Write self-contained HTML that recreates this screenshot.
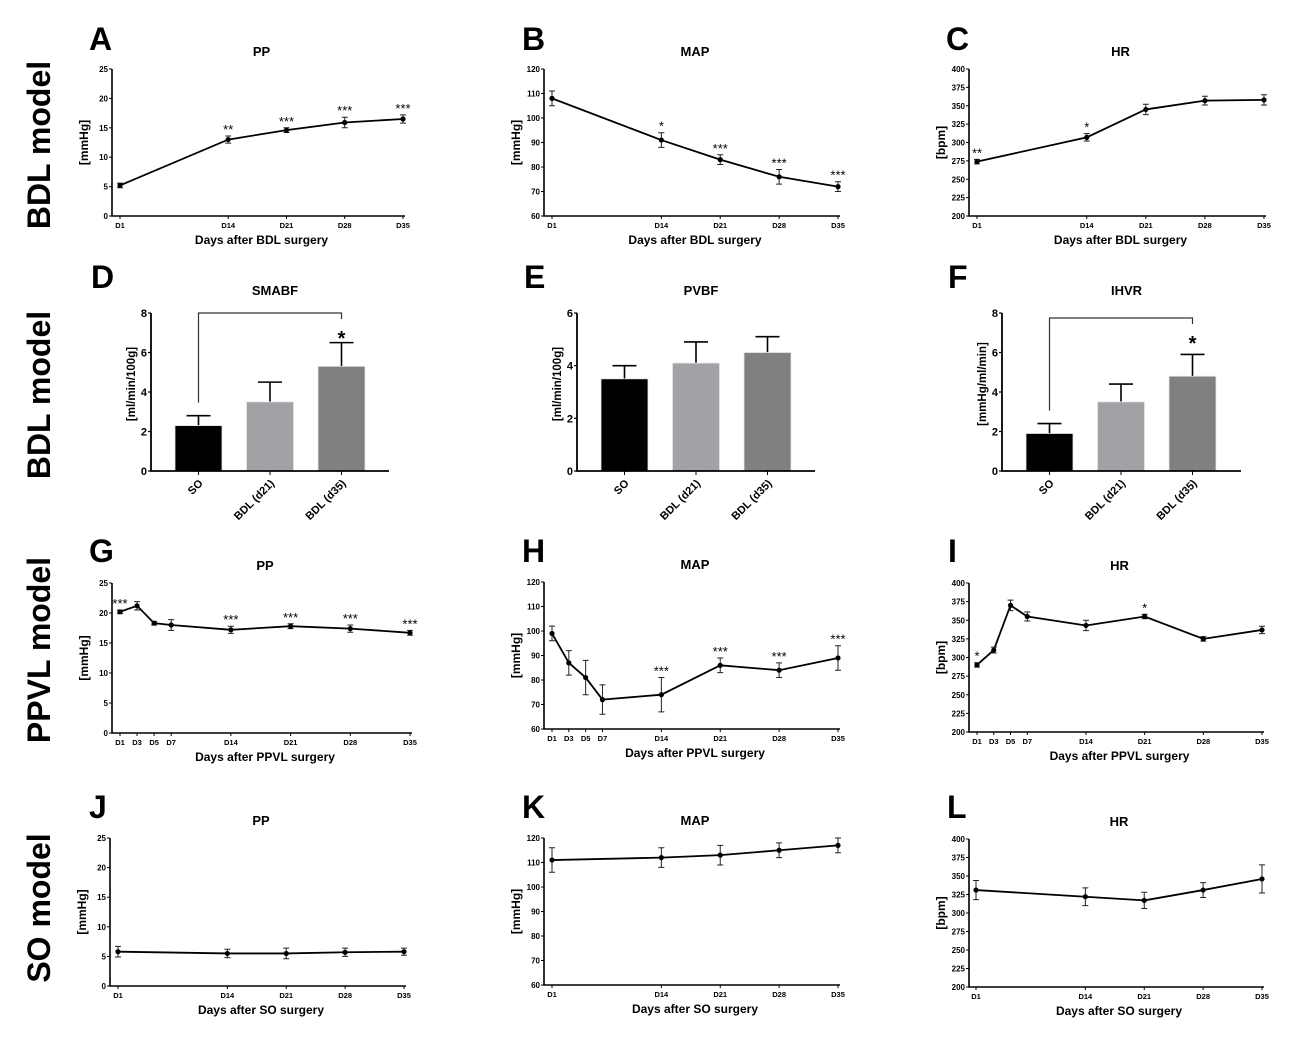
<!DOCTYPE html>
<html><head><meta charset="utf-8"><style>
html,body{margin:0;padding:0;background:#fff;}
svg{display:block;font-family:"Liberation Sans",Arial,sans-serif;font-weight:bold;}
</style></head><body>
<svg id="fig" width="1300" height="1040" viewBox="0 0 1300 1040">
<text x="50" y="145" font-size="32" text-anchor="middle" transform="rotate(-90 50 145)">BDL model</text>
<text x="50" y="395" font-size="32" text-anchor="middle" transform="rotate(-90 50 395)">BDL model</text>
<text x="50" y="650" font-size="32" text-anchor="middle" transform="rotate(-90 50 650)">PPVL model</text>
<text x="50" y="908" font-size="32" text-anchor="middle" transform="rotate(-90 50 908)">SO model</text>
</svg>
<script>
// ---- data ----
const daysBDL = [1,14,21,28,35];
const daysPPVL = [1,3,5,7,14,21,28,35];
const dayLabelsBDL = ["D1","D14","D21","D28","D35"];
const dayLabelsPPVL = ["D1","D3","D5","D7","D14","D21","D28","D35"];
const ppTicks = [0,5,10,15,20,25];
const mapTicks = [60,70,80,90,100,110,120];
const hrTicks = [200,225,250,275,300,325,350,375,400];
const valsA = [5.2,13.0,14.6,15.9,16.5];
const errsA = [0.4,0.6,0.4,0.9,0.7];
const starsA = ["","**","***","***","***"];
const valsB = [108,91,83,76,72];
const errsB = [3,3,2,3,2];
const starsB = ["","*","***","***","***"];
const valsC = [274,307,345,357,358];
const errsC = [3,5,7,6,7];
const starsC = ["**","*","","",""];
const valsG = [20.2,21.2,18.3,18.0,17.2,17.8,17.4,16.7];
const errsG = [0.3,0.7,0.3,0.9,0.6,0.4,0.6,0.4];
const starsG = ["***","","","","***","***","***","***"];
const valsH = [99,87,81,72,74,86,84,89];
const errsH = [3,5,7,6,7,3,3,5];
const starsH = ["","","","","***","***","***","***"];
const valsI = [290,310,370,355,343,355,325,337];
const errsI = [3,4,7,6,7,3,3,5];
const starsI = ["*","","","","","*","",""];
const valsJ = [5.8,5.5,5.5,5.7,5.8];
const errsJ = [0.9,0.7,0.9,0.7,0.6];
const valsK = [111,112,113,115,117];
const errsK = [5,4,4,3,3];
const valsL = [331,322,317,331,346];
const errsL = [13,12,11,10,19];
const barCats = ["SO","BDL (d21)","BDL (d35)"];
const barColors = ["#000000","#a2a2a6","#808080"];
const valsD = [2.3,3.5,5.3];
const errsD = [0.5,1.0,1.2];
const valsE = [3.5,4.1,4.5];
const errsE = [0.5,0.8,0.6];
const valsF = [1.9,3.5,4.8];
const errsF = [0.5,0.9,1.1];
const ticks8 = [0,2,4,6,8];
const ticks6 = [0,2,4,6];

const NS="http://www.w3.org/2000/svg";
const svg=document.getElementById('fig');
function mk(tag,attrs,parent,txt){const e=document.createElementNS(NS,tag);for(const k in attrs)e.setAttribute(k,attrs[k]);if(txt!==undefined)e.textContent=txt;(parent||svg).appendChild(e);return e;}

function lineChart(o){
  const g=mk('g',{});
  
  
  const sx=d=>o.x0+(d-1)/34*(o.x1-o.x0);
  const sy=v=>o.yB-(v-o.ymin)/(o.ymax-o.ymin)*(o.yB-o.yT);
  const L=mk('text',{x:o.lx,y:o.ly,'font-size':32},g,o.letter);
  
  
  const T=mk('text',{x:(o.x0+o.x1)/2,y:o.yT-13,'font-size':13,'text-anchor':'middle'},g,o.title);
  
  
  const ax=mk('path',{d:`M${o.ax},${o.yT}V${o.yB}H${o.x1+2}`,stroke:'#000','stroke-width':1.6,fill:'none'},g);
  
  
  o.ticks.forEach(t=>{
    mk('line',{x1:o.ax-3,x2:o.ax,y1:sy(t),y2:sy(t),stroke:'#000','stroke-width':1},g);
    const tl=mk('text',{x:o.ax-4,y:sy(t)+3,'font-size':8,'text-anchor':'end'},g,String(t));
    
    
  });
  o.days.forEach((d,i)=>{
    mk('line',{x1:sx(d),x2:sx(d),y1:o.yB,y2:o.yB+3,stroke:'#000','stroke-width':1},g);
    const tl=mk('text',{x:sx(d),y:o.yB+12,'font-size':7.5,'text-anchor':'middle'},g,o.dayLabels[i]);
    
    
  });
  const yl=mk('text',{x:o.ax-24,y:(o.yT+o.yB)/2,'font-size':12,'text-anchor':'middle',transform:`rotate(-90 ${o.ax-24} ${(o.yT+o.yB)/2})`},g,o.ylabel);
  
  
  const xl=mk('text',{x:(o.x0+o.x1)/2,y:o.yB+28,'font-size':12,'text-anchor':'middle'},g,o.xlabel);
  
  
  const pts=o.days.map((d,i)=>sx(d)+','+sy(o.vals[i])).join(' ');
  const pl=mk('polyline',{points:pts,fill:'none',stroke:'#000','stroke-width':1.8},g);
  
  
  o.days.forEach((d,i)=>{
    const x=sx(d),v=o.vals[i],e=o.errs[i];
    const top=sy(v+e),bot=sy(v-e);
    const eb=mk('path',{d:`M${x},${top}V${bot}M${x-3},${top}H${x+3}M${x-3},${bot}H${x+3}`,stroke:'#222','stroke-width':1},g);
    
    
    const p=mk('circle',{cx:x,cy:sy(v),r:2.6,fill:'#000'},g);
    
    
    if(o.stars&&o.stars[i]){
      const s=mk('text',{x:x,y:top-2,'font-size':13,'font-weight':'normal','text-anchor':'middle'},g,o.stars[i]);
      
      
    }
  });
}

function barChart(o){
  const g=mk('g',{});
  
  
  const sy=v=>o.yB-(v/o.ymax)*(o.yB-o.yT);
  const L=mk('text',{x:o.lx,y:o.ly,'font-size':32},g,o.letter);
  
  
  const T=mk('text',{x:(o.ax+o.axEnd)/2+5,y:o.yT-18,'font-size':13,'text-anchor':'middle'},g,o.title);
  
  
  const bw=47, step=71.5;
  o.vals.forEach((v,i)=>{
    const x=o.b0+i*step, cx=x+bw/2;
    const top=sy(v+o.errs[i]);
    const eb=mk('path',{d:`M${cx},${sy(v)}V${top}M${cx-12},${top}H${cx+12}`,stroke:'#000','stroke-width':1.6},g);
    
    
    const r=mk('rect',{x:x,y:sy(v),width:bw,height:o.yB-sy(v),fill:barColors[i],stroke:'#e8e8e8','stroke-width':0.8},g);
    
    
    mk('line',{x1:cx,x2:cx,y1:o.yB,y2:o.yB+4,stroke:'#000','stroke-width':1},g);
    const tl=mk('text',{x:cx+5,y:o.yB+13,'font-size':11,'text-anchor':'end',transform:`rotate(-45 ${cx+5} ${o.yB+13})`},g,barCats[i]);
    
    
  });
  const ax=mk('path',{d:`M${o.ax},${o.yT}V${o.yB}H${o.axEnd}`,stroke:'#000','stroke-width':1.8,fill:'none'},g);
  
  
  o.ticks.forEach(t=>{
    mk('line',{x1:o.ax-3,x2:o.ax,y1:sy(t),y2:sy(t),stroke:'#000','stroke-width':1.2},g);
    const tl=mk('text',{x:o.ax-4,y:sy(t)+4,'font-size':11,'text-anchor':'end'},g,String(t));
    
    
  });
  const yl=mk('text',{x:o.ax-16,y:(o.yT+o.yB)/2-8,'font-size':11.5,'text-anchor':'middle',transform:`rotate(-90 ${o.ax-16} ${(o.yT+o.yB)/2-8})`},g,o.ylabel);
  
  
  if(o.bracket){
    const c0=o.b0+bw/2, c2=o.b0+2*step+bw/2;
    const br=mk('path',{d:`M${c0},${sy(o.vals[0]+o.errs[0])-13}V${o.brY}H${c2}V${o.brY+6}`,stroke:'#333','stroke-width':1.2,fill:'none'},g);
    
    
    const s=mk('text',{x:c2,y:o.brY+32,'font-size':20,'text-anchor':'middle'},g,'*');
    
    
  }
}

const C1={ax:112,x0:120,x1:403}, C2={ax:544,x0:552,x1:838}, C3={ax:969,x0:977,x1:1264};
lineChart({id:'a',letter:'A',lx:89,ly:50,...C1,yT:69,yB:216,ymin:0,ymax:25,ticks:ppTicks,days:daysBDL,dayLabels:dayLabelsBDL,vals:valsA,errs:errsA,stars:starsA,title:'PP',ylabel:'[mmHg]',xlabel:'Days after BDL surgery'});
lineChart({id:'b',letter:'B',lx:522,ly:50,...C2,yT:69,yB:216,ymin:60,ymax:120,ticks:mapTicks,days:daysBDL,dayLabels:dayLabelsBDL,vals:valsB,errs:errsB,stars:starsB,title:'MAP',ylabel:'[mmHg]',xlabel:'Days after BDL surgery'});
lineChart({id:'c',letter:'C',lx:946,ly:50,...C3,yT:69,yB:216,ymin:200,ymax:400,ticks:hrTicks,days:daysBDL,dayLabels:dayLabelsBDL,vals:valsC,errs:errsC,stars:starsC,title:'HR',ylabel:'[bpm]',xlabel:'Days after BDL surgery'});
barChart({id:'d',letter:'D',lx:91,ly:288,ax:151,axEnd:389,b0:175,yT:313,yB:471,ymax:8,ticks:ticks8,vals:valsD,errs:errsD,title:'SMABF',ylabel:'[ml/min/100g]',bracket:true,brY:313});
barChart({id:'e',letter:'E',lx:524,ly:288,ax:577,axEnd:815,b0:601,yT:313,yB:471,ymax:6,ticks:ticks6,vals:valsE,errs:errsE,title:'PVBF',ylabel:'[ml/min/100g]',bracket:false});
barChart({id:'f',letter:'F',lx:948,ly:288,ax:1002,axEnd:1241,b0:1026,yT:313,yB:471,ymax:8,ticks:ticks8,vals:valsF,errs:errsF,title:'IHVR',ylabel:'[mmHg/ml/min]',bracket:true,brY:318});
lineChart({id:'g',letter:'G',lx:89,ly:562,ax:112,x0:120,x1:410,yT:583,yB:733,ymin:0,ymax:25,ticks:ppTicks,days:daysPPVL,dayLabels:dayLabelsPPVL,vals:valsG,errs:errsG,stars:starsG,title:'PP',ylabel:'[mmHg]',xlabel:'Days after PPVL surgery'});
lineChart({id:'h',letter:'H',lx:522,ly:562,...C2,yT:582,yB:729,ymin:60,ymax:120,ticks:mapTicks,days:daysPPVL,dayLabels:dayLabelsPPVL,vals:valsH,errs:errsH,stars:starsH,title:'MAP',ylabel:'[mmHg]',xlabel:'Days after PPVL surgery'});
lineChart({id:'i',letter:'I',lx:948,ly:562,ax:969,x0:977,x1:1262,yT:583,yB:732,ymin:200,ymax:400,ticks:hrTicks,days:daysPPVL,dayLabels:dayLabelsPPVL,vals:valsI,errs:errsI,stars:starsI,title:'HR',ylabel:'[bpm]',xlabel:'Days after PPVL surgery'});
lineChart({id:'j',letter:'J',lx:89,ly:818,ax:110,x0:118,x1:404,yT:838,yB:986,ymin:0,ymax:25,ticks:ppTicks,days:daysBDL,dayLabels:dayLabelsBDL,vals:valsJ,errs:errsJ,stars:null,title:'PP',ylabel:'[mmHg]',xlabel:'Days after SO surgery'});
lineChart({id:'k',letter:'K',lx:522,ly:818,...C2,yT:838,yB:985,ymin:60,ymax:120,ticks:mapTicks,days:daysBDL,dayLabels:dayLabelsBDL,vals:valsK,errs:errsK,stars:null,title:'MAP',ylabel:'[mmHg]',xlabel:'Days after SO surgery'});
lineChart({id:'l',letter:'L',lx:947,ly:818,ax:969,x0:976,x1:1262,yT:839,yB:987,ymin:200,ymax:400,ticks:hrTicks,days:daysBDL,dayLabels:dayLabelsBDL,vals:valsL,errs:errsL,stars:null,title:'HR',ylabel:'[bpm]',xlabel:'Days after SO surgery'});
</script>
</body></html>
